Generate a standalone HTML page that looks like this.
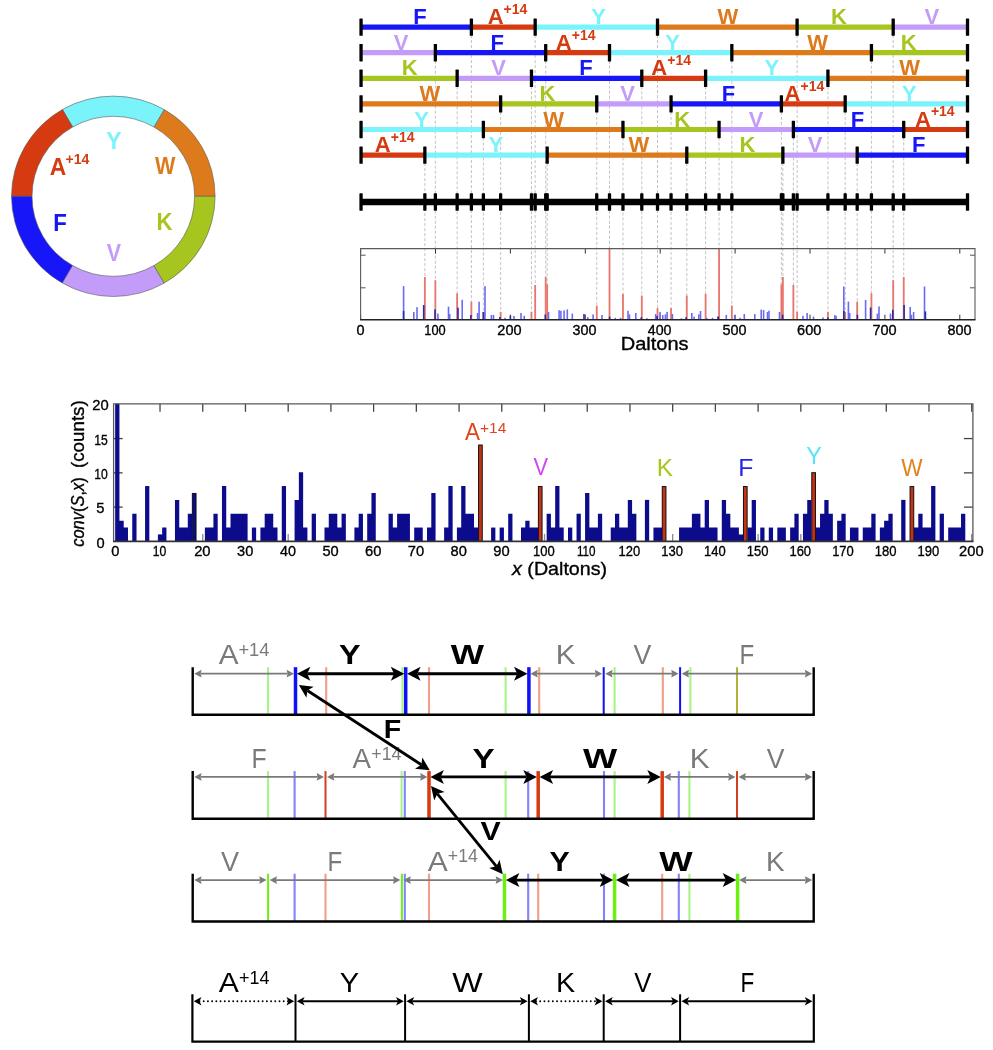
<!DOCTYPE html>
<html><head><meta charset="utf-8"><style>
html,body{margin:0;padding:0;background:#fff;overflow:hidden;width:993px;height:1050px;}
svg{display:block;will-change:transform;}
text{font-family:"Liberation Sans", sans-serif;}
</style></head><body>
<svg width="993" height="1050" viewBox="0 0 993 1050" font-family='"Liberation Sans", sans-serif'>
<rect width="993" height="1050" fill="#fff"/>
<path d="M215.10,196.30 A101.80,100.20 0 0 0 164.20,109.52 L153.94,127.02 A81.28,80.00 0 0 1 194.58,196.30 Z" fill="#dd7a1c" stroke="#5a5a5a" stroke-width="0.6"/>
<path d="M164.20,109.52 A101.80,100.20 0 0 0 62.40,109.52 L72.66,127.02 A81.28,80.00 0 0 1 153.94,127.02 Z" fill="#7af3fb" stroke="#5a5a5a" stroke-width="0.6"/>
<path d="M62.40,109.52 A101.80,100.20 0 0 0 11.50,196.30 L32.02,196.30 A81.28,80.00 0 0 1 72.66,127.02 Z" fill="#d63a10" stroke="#5a5a5a" stroke-width="0.6"/>
<path d="M11.50,196.30 A101.80,100.20 0 0 0 62.40,283.08 L72.66,265.58 A81.28,80.00 0 0 1 32.02,196.30 Z" fill="#1616f8" stroke="#5a5a5a" stroke-width="0.6"/>
<path d="M62.40,283.08 A101.80,100.20 0 0 0 164.20,283.08 L153.94,265.58 A81.28,80.00 0 0 1 72.66,265.58 Z" fill="#c39cfa" stroke="#5a5a5a" stroke-width="0.6"/>
<path d="M164.20,283.08 A101.80,100.20 0 0 0 215.10,196.30 L194.58,196.30 A81.28,80.00 0 0 1 153.94,265.58 Z" fill="#a6c51e" stroke="#5a5a5a" stroke-width="0.6"/>
<text transform="translate(106.21,149.00) scale(0.9819,1)" font-size="23.3" font-weight="bold" fill="#7af3fb">Y</text>
<text transform="translate(154.98,174.00) scale(0.9250,1)" font-size="23.3" font-weight="bold" fill="#dd7a1c">W</text>
<text transform="translate(156.62,230.10) scale(0.9501,1)" font-size="23.3" font-weight="bold" fill="#a6c51e">K</text>
<text transform="translate(106.75,260.70) scale(0.9197,1)" font-size="23.3" font-weight="bold" fill="#c39cfa">V</text>
<text transform="translate(53.31,230.80) scale(0.9560,1)" font-size="23.3" font-weight="bold" fill="#1616f8">F</text>
<text transform="translate(49.73,174.70) scale(0.9788,1)" font-size="23.3" font-weight="bold" fill="#d63a10">A</text>
<text transform="translate(65.51,164.40) scale(0.9908,1)" font-size="14.2" font-weight="bold" fill="#d63a10">+14</text>
<line x1="471.38" y1="35.1" x2="471.38" y2="319" stroke="#bcbcbc" stroke-width="0.9" stroke-dasharray="3,2"/>
<line x1="535.18" y1="35.1" x2="535.18" y2="319" stroke="#bcbcbc" stroke-width="0.9" stroke-dasharray="3,2"/>
<line x1="657.51" y1="35.1" x2="657.51" y2="319" stroke="#bcbcbc" stroke-width="0.9" stroke-dasharray="3,2"/>
<line x1="797.11" y1="35.1" x2="797.11" y2="319" stroke="#bcbcbc" stroke-width="0.9" stroke-dasharray="3,2"/>
<line x1="893.20" y1="35.1" x2="893.20" y2="319" stroke="#bcbcbc" stroke-width="0.9" stroke-dasharray="3,2"/>
<line x1="435.37" y1="60.7" x2="435.37" y2="319" stroke="#bcbcbc" stroke-width="0.9" stroke-dasharray="3,2"/>
<line x1="545.70" y1="60.7" x2="545.70" y2="319" stroke="#bcbcbc" stroke-width="0.9" stroke-dasharray="3,2"/>
<line x1="609.50" y1="60.7" x2="609.50" y2="319" stroke="#bcbcbc" stroke-width="0.9" stroke-dasharray="3,2"/>
<line x1="731.83" y1="60.7" x2="731.83" y2="319" stroke="#bcbcbc" stroke-width="0.9" stroke-dasharray="3,2"/>
<line x1="871.43" y1="60.7" x2="871.43" y2="319" stroke="#bcbcbc" stroke-width="0.9" stroke-dasharray="3,2"/>
<line x1="457.15" y1="86.3" x2="457.15" y2="319" stroke="#bcbcbc" stroke-width="0.9" stroke-dasharray="3,2"/>
<line x1="531.47" y1="86.3" x2="531.47" y2="319" stroke="#bcbcbc" stroke-width="0.9" stroke-dasharray="3,2"/>
<line x1="641.79" y1="86.3" x2="641.79" y2="319" stroke="#bcbcbc" stroke-width="0.9" stroke-dasharray="3,2"/>
<line x1="705.60" y1="86.3" x2="705.60" y2="319" stroke="#bcbcbc" stroke-width="0.9" stroke-dasharray="3,2"/>
<line x1="827.93" y1="86.3" x2="827.93" y2="319" stroke="#bcbcbc" stroke-width="0.9" stroke-dasharray="3,2"/>
<line x1="500.64" y1="111.9" x2="500.64" y2="319" stroke="#bcbcbc" stroke-width="0.9" stroke-dasharray="3,2"/>
<line x1="596.74" y1="111.9" x2="596.74" y2="319" stroke="#bcbcbc" stroke-width="0.9" stroke-dasharray="3,2"/>
<line x1="671.06" y1="111.9" x2="671.06" y2="319" stroke="#bcbcbc" stroke-width="0.9" stroke-dasharray="3,2"/>
<line x1="781.39" y1="111.9" x2="781.39" y2="319" stroke="#bcbcbc" stroke-width="0.9" stroke-dasharray="3,2"/>
<line x1="845.19" y1="111.9" x2="845.19" y2="319" stroke="#bcbcbc" stroke-width="0.9" stroke-dasharray="3,2"/>
<line x1="483.38" y1="137.5" x2="483.38" y2="319" stroke="#bcbcbc" stroke-width="0.9" stroke-dasharray="3,2"/>
<line x1="622.97" y1="137.5" x2="622.97" y2="319" stroke="#bcbcbc" stroke-width="0.9" stroke-dasharray="3,2"/>
<line x1="719.07" y1="137.5" x2="719.07" y2="319" stroke="#bcbcbc" stroke-width="0.9" stroke-dasharray="3,2"/>
<line x1="793.39" y1="137.5" x2="793.39" y2="319" stroke="#bcbcbc" stroke-width="0.9" stroke-dasharray="3,2"/>
<line x1="903.72" y1="137.5" x2="903.72" y2="319" stroke="#bcbcbc" stroke-width="0.9" stroke-dasharray="3,2"/>
<line x1="424.86" y1="163.1" x2="424.86" y2="319" stroke="#bcbcbc" stroke-width="0.9" stroke-dasharray="3,2"/>
<line x1="547.18" y1="163.1" x2="547.18" y2="319" stroke="#bcbcbc" stroke-width="0.9" stroke-dasharray="3,2"/>
<line x1="686.78" y1="163.1" x2="686.78" y2="319" stroke="#bcbcbc" stroke-width="0.9" stroke-dasharray="3,2"/>
<line x1="782.87" y1="163.1" x2="782.87" y2="319" stroke="#bcbcbc" stroke-width="0.9" stroke-dasharray="3,2"/>
<line x1="857.19" y1="163.1" x2="857.19" y2="319" stroke="#bcbcbc" stroke-width="0.9" stroke-dasharray="3,2"/>
<line x1="361.05" y1="27.1" x2="471.38" y2="27.1" stroke="#1616f8" stroke-width="5.2"/>
<text x="413.15" y="24.20" font-size="22" font-weight="bold" fill="#1616f8">F</text>
<line x1="471.38" y1="27.1" x2="535.18" y2="27.1" stroke="#d63a10" stroke-width="5.2"/>
<text x="487.65" y="24.20" font-size="22" font-weight="bold" fill="#d63a10">A</text>
<text x="503.61" y="14.00" font-size="14" font-weight="bold" fill="#d63a10">+14</text>
<line x1="535.18" y1="27.1" x2="657.51" y2="27.1" stroke="#7af3fb" stroke-width="5.2"/>
<text x="591.15" y="24.20" font-size="22" font-weight="bold" fill="#7af3fb">Y</text>
<line x1="657.51" y1="27.1" x2="797.11" y2="27.1" stroke="#dd7a1c" stroke-width="5.2"/>
<text x="717.62" y="24.20" font-size="22" font-weight="bold" fill="#dd7a1c">W</text>
<line x1="797.11" y1="27.1" x2="893.20" y2="27.1" stroke="#a6c51e" stroke-width="5.2"/>
<text x="831.02" y="24.20" font-size="22" font-weight="bold" fill="#a6c51e">K</text>
<line x1="893.20" y1="27.1" x2="967.52" y2="27.1" stroke="#c39cfa" stroke-width="5.2"/>
<text x="924.46" y="24.20" font-size="22" font-weight="bold" fill="#c39cfa">V</text>
<rect x="359.40" y="18.4" width="3.3" height="17.4" fill="#000" rx="0.6"/>
<rect x="469.73" y="18.4" width="3.3" height="17.4" fill="#000" rx="0.6"/>
<rect x="533.53" y="18.4" width="3.3" height="17.4" fill="#000" rx="0.6"/>
<rect x="655.86" y="18.4" width="3.3" height="17.4" fill="#000" rx="0.6"/>
<rect x="795.46" y="18.4" width="3.3" height="17.4" fill="#000" rx="0.6"/>
<rect x="891.55" y="18.4" width="3.3" height="17.4" fill="#000" rx="0.6"/>
<rect x="965.87" y="18.4" width="3.3" height="17.4" fill="#000" rx="0.6"/>
<line x1="361.05" y1="52.7" x2="435.37" y2="52.7" stroke="#c39cfa" stroke-width="5.2"/>
<text x="393.66" y="49.80" font-size="22" font-weight="bold" fill="#c39cfa">V</text>
<line x1="435.37" y1="52.7" x2="545.70" y2="52.7" stroke="#1616f8" stroke-width="5.2"/>
<text x="490.45" y="49.80" font-size="22" font-weight="bold" fill="#1616f8">F</text>
<line x1="545.70" y1="52.7" x2="609.50" y2="52.7" stroke="#d63a10" stroke-width="5.2"/>
<text x="555.85" y="49.80" font-size="22" font-weight="bold" fill="#d63a10">A</text>
<text x="571.81" y="39.60" font-size="14" font-weight="bold" fill="#d63a10">+14</text>
<line x1="609.50" y1="52.7" x2="731.83" y2="52.7" stroke="#7af3fb" stroke-width="5.2"/>
<text x="665.25" y="49.80" font-size="22" font-weight="bold" fill="#7af3fb">Y</text>
<line x1="731.83" y1="52.7" x2="871.43" y2="52.7" stroke="#dd7a1c" stroke-width="5.2"/>
<text x="807.22" y="49.80" font-size="22" font-weight="bold" fill="#dd7a1c">W</text>
<line x1="871.43" y1="52.7" x2="967.52" y2="52.7" stroke="#a6c51e" stroke-width="5.2"/>
<text x="900.82" y="49.80" font-size="22" font-weight="bold" fill="#a6c51e">K</text>
<rect x="359.40" y="44.0" width="3.3" height="17.4" fill="#000" rx="0.6"/>
<rect x="433.72" y="44.0" width="3.3" height="17.4" fill="#000" rx="0.6"/>
<rect x="544.05" y="44.0" width="3.3" height="17.4" fill="#000" rx="0.6"/>
<rect x="607.85" y="44.0" width="3.3" height="17.4" fill="#000" rx="0.6"/>
<rect x="730.18" y="44.0" width="3.3" height="17.4" fill="#000" rx="0.6"/>
<rect x="869.78" y="44.0" width="3.3" height="17.4" fill="#000" rx="0.6"/>
<rect x="965.87" y="44.0" width="3.3" height="17.4" fill="#000" rx="0.6"/>
<line x1="361.05" y1="78.3" x2="457.15" y2="78.3" stroke="#a6c51e" stroke-width="5.2"/>
<text x="401.82" y="75.40" font-size="22" font-weight="bold" fill="#a6c51e">K</text>
<line x1="457.15" y1="78.3" x2="531.47" y2="78.3" stroke="#c39cfa" stroke-width="5.2"/>
<text x="491.26" y="75.40" font-size="22" font-weight="bold" fill="#c39cfa">V</text>
<line x1="531.47" y1="78.3" x2="641.79" y2="78.3" stroke="#1616f8" stroke-width="5.2"/>
<text x="579.35" y="75.40" font-size="22" font-weight="bold" fill="#1616f8">F</text>
<line x1="641.79" y1="78.3" x2="705.60" y2="78.3" stroke="#d63a10" stroke-width="5.2"/>
<text x="651.35" y="75.40" font-size="22" font-weight="bold" fill="#d63a10">A</text>
<text x="667.31" y="65.20" font-size="14" font-weight="bold" fill="#d63a10">+14</text>
<line x1="705.60" y1="78.3" x2="827.93" y2="78.3" stroke="#7af3fb" stroke-width="5.2"/>
<text x="764.45" y="75.40" font-size="22" font-weight="bold" fill="#7af3fb">Y</text>
<line x1="827.93" y1="78.3" x2="967.52" y2="78.3" stroke="#dd7a1c" stroke-width="5.2"/>
<text x="899.32" y="75.40" font-size="22" font-weight="bold" fill="#dd7a1c">W</text>
<rect x="359.40" y="69.6" width="3.3" height="17.4" fill="#000" rx="0.6"/>
<rect x="455.50" y="69.6" width="3.3" height="17.4" fill="#000" rx="0.6"/>
<rect x="529.82" y="69.6" width="3.3" height="17.4" fill="#000" rx="0.6"/>
<rect x="640.14" y="69.6" width="3.3" height="17.4" fill="#000" rx="0.6"/>
<rect x="703.95" y="69.6" width="3.3" height="17.4" fill="#000" rx="0.6"/>
<rect x="826.28" y="69.6" width="3.3" height="17.4" fill="#000" rx="0.6"/>
<rect x="965.87" y="69.6" width="3.3" height="17.4" fill="#000" rx="0.6"/>
<line x1="361.05" y1="103.9" x2="500.64" y2="103.9" stroke="#dd7a1c" stroke-width="5.2"/>
<text x="419.52" y="101.00" font-size="22" font-weight="bold" fill="#dd7a1c">W</text>
<line x1="500.64" y1="103.9" x2="596.74" y2="103.9" stroke="#a6c51e" stroke-width="5.2"/>
<text x="539.62" y="101.00" font-size="22" font-weight="bold" fill="#a6c51e">K</text>
<line x1="596.74" y1="103.9" x2="671.06" y2="103.9" stroke="#c39cfa" stroke-width="5.2"/>
<text x="620.36" y="101.00" font-size="22" font-weight="bold" fill="#c39cfa">V</text>
<line x1="671.06" y1="103.9" x2="781.39" y2="103.9" stroke="#1616f8" stroke-width="5.2"/>
<text x="721.65" y="101.00" font-size="22" font-weight="bold" fill="#1616f8">F</text>
<line x1="781.39" y1="103.9" x2="845.19" y2="103.9" stroke="#d63a10" stroke-width="5.2"/>
<text x="784.55" y="101.00" font-size="22" font-weight="bold" fill="#d63a10">A</text>
<text x="800.51" y="90.80" font-size="14" font-weight="bold" fill="#d63a10">+14</text>
<line x1="845.19" y1="103.9" x2="967.52" y2="103.9" stroke="#7af3fb" stroke-width="5.2"/>
<text x="902.05" y="101.00" font-size="22" font-weight="bold" fill="#7af3fb">Y</text>
<rect x="359.40" y="95.2" width="3.3" height="17.4" fill="#000" rx="0.6"/>
<rect x="498.99" y="95.2" width="3.3" height="17.4" fill="#000" rx="0.6"/>
<rect x="595.09" y="95.2" width="3.3" height="17.4" fill="#000" rx="0.6"/>
<rect x="669.41" y="95.2" width="3.3" height="17.4" fill="#000" rx="0.6"/>
<rect x="779.74" y="95.2" width="3.3" height="17.4" fill="#000" rx="0.6"/>
<rect x="843.54" y="95.2" width="3.3" height="17.4" fill="#000" rx="0.6"/>
<rect x="965.87" y="95.2" width="3.3" height="17.4" fill="#000" rx="0.6"/>
<line x1="361.05" y1="129.5" x2="483.38" y2="129.5" stroke="#7af3fb" stroke-width="5.2"/>
<text x="414.25" y="126.60" font-size="22" font-weight="bold" fill="#7af3fb">Y</text>
<line x1="483.38" y1="129.5" x2="622.97" y2="129.5" stroke="#dd7a1c" stroke-width="5.2"/>
<text x="543.32" y="126.60" font-size="22" font-weight="bold" fill="#dd7a1c">W</text>
<line x1="622.97" y1="129.5" x2="719.07" y2="129.5" stroke="#a6c51e" stroke-width="5.2"/>
<text x="674.32" y="126.60" font-size="22" font-weight="bold" fill="#a6c51e">K</text>
<line x1="719.07" y1="129.5" x2="793.39" y2="129.5" stroke="#c39cfa" stroke-width="5.2"/>
<text x="748.76" y="126.60" font-size="22" font-weight="bold" fill="#c39cfa">V</text>
<line x1="793.39" y1="129.5" x2="903.72" y2="129.5" stroke="#1616f8" stroke-width="5.2"/>
<text x="850.65" y="126.60" font-size="22" font-weight="bold" fill="#1616f8">F</text>
<line x1="903.72" y1="129.5" x2="967.52" y2="129.5" stroke="#d63a10" stroke-width="5.2"/>
<text x="914.95" y="126.60" font-size="22" font-weight="bold" fill="#d63a10">A</text>
<text x="930.91" y="116.40" font-size="14" font-weight="bold" fill="#d63a10">+14</text>
<rect x="359.40" y="120.8" width="3.3" height="17.4" fill="#000" rx="0.6"/>
<rect x="481.73" y="120.8" width="3.3" height="17.4" fill="#000" rx="0.6"/>
<rect x="621.32" y="120.8" width="3.3" height="17.4" fill="#000" rx="0.6"/>
<rect x="717.42" y="120.8" width="3.3" height="17.4" fill="#000" rx="0.6"/>
<rect x="791.74" y="120.8" width="3.3" height="17.4" fill="#000" rx="0.6"/>
<rect x="902.07" y="120.8" width="3.3" height="17.4" fill="#000" rx="0.6"/>
<rect x="965.87" y="120.8" width="3.3" height="17.4" fill="#000" rx="0.6"/>
<line x1="361.05" y1="155.1" x2="424.86" y2="155.1" stroke="#d63a10" stroke-width="5.2"/>
<text x="374.75" y="152.20" font-size="22" font-weight="bold" fill="#d63a10">A</text>
<text x="390.71" y="142.00" font-size="14" font-weight="bold" fill="#d63a10">+14</text>
<line x1="424.86" y1="155.1" x2="547.18" y2="155.1" stroke="#7af3fb" stroke-width="5.2"/>
<text x="488.45" y="152.20" font-size="22" font-weight="bold" fill="#7af3fb">Y</text>
<line x1="547.18" y1="155.1" x2="686.78" y2="155.1" stroke="#dd7a1c" stroke-width="5.2"/>
<text x="628.42" y="152.20" font-size="22" font-weight="bold" fill="#dd7a1c">W</text>
<line x1="686.78" y1="155.1" x2="782.87" y2="155.1" stroke="#a6c51e" stroke-width="5.2"/>
<text x="739.42" y="152.20" font-size="22" font-weight="bold" fill="#a6c51e">K</text>
<line x1="782.87" y1="155.1" x2="857.19" y2="155.1" stroke="#c39cfa" stroke-width="5.2"/>
<text x="807.66" y="152.20" font-size="22" font-weight="bold" fill="#c39cfa">V</text>
<line x1="857.19" y1="155.1" x2="967.52" y2="155.1" stroke="#1616f8" stroke-width="5.2"/>
<text x="911.95" y="152.20" font-size="22" font-weight="bold" fill="#1616f8">F</text>
<rect x="359.40" y="146.4" width="3.3" height="17.4" fill="#000" rx="0.6"/>
<rect x="423.21" y="146.4" width="3.3" height="17.4" fill="#000" rx="0.6"/>
<rect x="545.53" y="146.4" width="3.3" height="17.4" fill="#000" rx="0.6"/>
<rect x="685.13" y="146.4" width="3.3" height="17.4" fill="#000" rx="0.6"/>
<rect x="781.22" y="146.4" width="3.3" height="17.4" fill="#000" rx="0.6"/>
<rect x="855.54" y="146.4" width="3.3" height="17.4" fill="#000" rx="0.6"/>
<rect x="965.87" y="146.4" width="3.3" height="17.4" fill="#000" rx="0.6"/>
<line x1="361.05" y1="202.0" x2="967.52" y2="202.0" stroke="#000" stroke-width="6.5"/>
<rect x="359.40" y="193.3" width="3.3" height="17.4" fill="#000" rx="0.6"/>
<rect x="423.21" y="193.3" width="3.3" height="17.4" fill="#000" rx="0.6"/>
<rect x="433.72" y="193.3" width="3.3" height="17.4" fill="#000" rx="0.6"/>
<rect x="455.50" y="193.3" width="3.3" height="17.4" fill="#000" rx="0.6"/>
<rect x="469.73" y="193.3" width="3.3" height="17.4" fill="#000" rx="0.6"/>
<rect x="481.73" y="193.3" width="3.3" height="17.4" fill="#000" rx="0.6"/>
<rect x="498.99" y="193.3" width="3.3" height="17.4" fill="#000" rx="0.6"/>
<rect x="529.82" y="193.3" width="3.3" height="17.4" fill="#000" rx="0.6"/>
<rect x="533.53" y="193.3" width="3.3" height="17.4" fill="#000" rx="0.6"/>
<rect x="544.05" y="193.3" width="3.3" height="17.4" fill="#000" rx="0.6"/>
<rect x="545.53" y="193.3" width="3.3" height="17.4" fill="#000" rx="0.6"/>
<rect x="595.09" y="193.3" width="3.3" height="17.4" fill="#000" rx="0.6"/>
<rect x="607.85" y="193.3" width="3.3" height="17.4" fill="#000" rx="0.6"/>
<rect x="621.32" y="193.3" width="3.3" height="17.4" fill="#000" rx="0.6"/>
<rect x="640.14" y="193.3" width="3.3" height="17.4" fill="#000" rx="0.6"/>
<rect x="655.86" y="193.3" width="3.3" height="17.4" fill="#000" rx="0.6"/>
<rect x="669.41" y="193.3" width="3.3" height="17.4" fill="#000" rx="0.6"/>
<rect x="685.13" y="193.3" width="3.3" height="17.4" fill="#000" rx="0.6"/>
<rect x="703.95" y="193.3" width="3.3" height="17.4" fill="#000" rx="0.6"/>
<rect x="717.42" y="193.3" width="3.3" height="17.4" fill="#000" rx="0.6"/>
<rect x="730.18" y="193.3" width="3.3" height="17.4" fill="#000" rx="0.6"/>
<rect x="779.74" y="193.3" width="3.3" height="17.4" fill="#000" rx="0.6"/>
<rect x="781.22" y="193.3" width="3.3" height="17.4" fill="#000" rx="0.6"/>
<rect x="791.74" y="193.3" width="3.3" height="17.4" fill="#000" rx="0.6"/>
<rect x="795.46" y="193.3" width="3.3" height="17.4" fill="#000" rx="0.6"/>
<rect x="826.28" y="193.3" width="3.3" height="17.4" fill="#000" rx="0.6"/>
<rect x="843.54" y="193.3" width="3.3" height="17.4" fill="#000" rx="0.6"/>
<rect x="855.54" y="193.3" width="3.3" height="17.4" fill="#000" rx="0.6"/>
<rect x="869.78" y="193.3" width="3.3" height="17.4" fill="#000" rx="0.6"/>
<rect x="891.55" y="193.3" width="3.3" height="17.4" fill="#000" rx="0.6"/>
<rect x="902.07" y="193.3" width="3.3" height="17.4" fill="#000" rx="0.6"/>
<rect x="965.87" y="193.3" width="3.3" height="17.4" fill="#000" rx="0.6"/>
<line x1="360.6" y1="248.6" x2="360.6" y2="253.6" stroke="#333" stroke-width="1"/>
<line x1="360.6" y1="319.7" x2="360.6" y2="314.7" stroke="#333" stroke-width="1"/>
<line x1="435.5" y1="248.6" x2="435.5" y2="253.6" stroke="#333" stroke-width="1"/>
<line x1="435.5" y1="319.7" x2="435.5" y2="314.7" stroke="#333" stroke-width="1"/>
<line x1="510.4" y1="248.6" x2="510.4" y2="253.6" stroke="#333" stroke-width="1"/>
<line x1="510.4" y1="319.7" x2="510.4" y2="314.7" stroke="#333" stroke-width="1"/>
<line x1="585.3" y1="248.6" x2="585.3" y2="253.6" stroke="#333" stroke-width="1"/>
<line x1="585.3" y1="319.7" x2="585.3" y2="314.7" stroke="#333" stroke-width="1"/>
<line x1="660.2" y1="248.6" x2="660.2" y2="253.6" stroke="#333" stroke-width="1"/>
<line x1="660.2" y1="319.7" x2="660.2" y2="314.7" stroke="#333" stroke-width="1"/>
<line x1="735.1" y1="248.6" x2="735.1" y2="253.6" stroke="#333" stroke-width="1"/>
<line x1="735.1" y1="319.7" x2="735.1" y2="314.7" stroke="#333" stroke-width="1"/>
<line x1="810.0" y1="248.6" x2="810.0" y2="253.6" stroke="#333" stroke-width="1"/>
<line x1="810.0" y1="319.7" x2="810.0" y2="314.7" stroke="#333" stroke-width="1"/>
<line x1="884.9" y1="248.6" x2="884.9" y2="253.6" stroke="#333" stroke-width="1"/>
<line x1="884.9" y1="319.7" x2="884.9" y2="314.7" stroke="#333" stroke-width="1"/>
<line x1="959.8" y1="248.6" x2="959.8" y2="253.6" stroke="#333" stroke-width="1"/>
<line x1="959.8" y1="319.7" x2="959.8" y2="314.7" stroke="#333" stroke-width="1"/>
<line x1="360.6" y1="255.2" x2="365.6" y2="255.2" stroke="#555" stroke-width="1"/>
<line x1="975.0" y1="255.2" x2="970.0" y2="255.2" stroke="#555" stroke-width="1"/>
<line x1="360.6" y1="287.8" x2="365.6" y2="287.8" stroke="#555" stroke-width="1"/>
<line x1="975.0" y1="287.8" x2="970.0" y2="287.8" stroke="#555" stroke-width="1"/>
<rect x="423.95" y="277" width="1.8" height="42.7" fill="#e8766c"/>
<rect x="434.47" y="280.2" width="1.8" height="39.5" fill="#e8766c"/>
<rect x="456.24" y="293.3" width="1.8" height="26.4" fill="#e8766c"/>
<rect x="470.48" y="301.7" width="1.8" height="18.0" fill="#e8766c"/>
<rect x="482.48" y="311.9" width="1.8" height="7.8" fill="#e8766c"/>
<rect x="499.75" y="311.9" width="1.8" height="7.8" fill="#e8766c"/>
<rect x="530.56" y="311.9" width="1.8" height="7.8" fill="#e8766c"/>
<rect x="534.28" y="285" width="1.8" height="34.7" fill="#e8766c"/>
<rect x="544.80" y="277" width="1.8" height="42.7" fill="#e8766c"/>
<rect x="546.28" y="284.4" width="1.8" height="35.3" fill="#e8766c"/>
<rect x="595.84" y="305.6" width="1.8" height="14.1" fill="#e8766c"/>
<rect x="608.61" y="248.6" width="1.8" height="71.1" fill="#e8766c"/>
<rect x="622.07" y="293.9" width="1.8" height="25.8" fill="#e8766c"/>
<rect x="640.89" y="295.6" width="1.8" height="24.1" fill="#e8766c"/>
<rect x="656.61" y="308.1" width="1.8" height="11.6" fill="#e8766c"/>
<rect x="670.16" y="308.1" width="1.8" height="11.6" fill="#e8766c"/>
<rect x="685.87" y="295.6" width="1.8" height="24.1" fill="#e8766c"/>
<rect x="704.70" y="293.9" width="1.8" height="25.8" fill="#e8766c"/>
<rect x="718.16" y="248.6" width="1.8" height="71.1" fill="#e8766c"/>
<rect x="730.93" y="305.6" width="1.8" height="14.1" fill="#e8766c"/>
<rect x="780.49" y="284.4" width="1.8" height="35.3" fill="#e8766c"/>
<rect x="781.97" y="277" width="1.8" height="42.7" fill="#e8766c"/>
<rect x="792.48" y="285" width="1.8" height="34.7" fill="#e8766c"/>
<rect x="796.21" y="311.9" width="1.8" height="7.8" fill="#e8766c"/>
<rect x="827.02" y="311.9" width="1.8" height="7.8" fill="#e8766c"/>
<rect x="844.29" y="311.9" width="1.8" height="7.8" fill="#e8766c"/>
<rect x="856.29" y="301.7" width="1.8" height="18.0" fill="#e8766c"/>
<rect x="870.53" y="293.3" width="1.8" height="26.4" fill="#e8766c"/>
<rect x="892.30" y="280.2" width="1.8" height="39.5" fill="#e8766c"/>
<rect x="902.81" y="277" width="1.8" height="42.7" fill="#e8766c"/>
<rect x="402.80" y="286.1" width="1.6" height="33.6" fill="#6a6af8"/>
<rect x="413.00" y="311.9" width="1.6" height="7.8" fill="#6a6af8"/>
<rect x="416.20" y="307.2" width="1.6" height="12.5" fill="#6a6af8"/>
<rect x="437.10" y="313.6" width="1.6" height="6.1" fill="#6a6af8"/>
<rect x="447.70" y="306.6" width="1.6" height="13.1" fill="#6a6af8"/>
<rect x="448.90" y="314" width="1.6" height="5.7" fill="#6a6af8"/>
<rect x="461.40" y="299.8" width="1.6" height="19.9" fill="#6a6af8"/>
<rect x="476.80" y="313" width="1.6" height="6.7" fill="#6a6af8"/>
<rect x="478.30" y="301.7" width="1.6" height="18.0" fill="#6a6af8"/>
<rect x="484.20" y="286.1" width="1.6" height="33.6" fill="#6a6af8"/>
<rect x="490.60" y="315" width="1.6" height="4.7" fill="#6a6af8"/>
<rect x="492.70" y="315" width="1.6" height="4.7" fill="#6a6af8"/>
<rect x="504.30" y="317.8" width="1.6" height="1.9" fill="#6a6af8"/>
<rect x="513.20" y="316" width="1.6" height="3.7" fill="#6a6af8"/>
<rect x="520.20" y="313" width="1.6" height="6.7" fill="#6a6af8"/>
<rect x="523.40" y="315.7" width="1.6" height="4.0" fill="#6a6af8"/>
<rect x="547.70" y="312" width="1.6" height="7.7" fill="#6a6af8"/>
<rect x="558.30" y="310.2" width="1.6" height="9.5" fill="#6a6af8"/>
<rect x="560.10" y="310.8" width="1.6" height="8.9" fill="#6a6af8"/>
<rect x="563.30" y="310.4" width="1.6" height="9.3" fill="#6a6af8"/>
<rect x="566.50" y="309.4" width="1.6" height="10.3" fill="#6a6af8"/>
<rect x="571.50" y="313.6" width="1.6" height="6.1" fill="#6a6af8"/>
<rect x="587.00" y="317.2" width="1.6" height="2.5" fill="#6a6af8"/>
<rect x="592.30" y="314.4" width="1.6" height="5.3" fill="#6a6af8"/>
<rect x="601.20" y="315" width="1.6" height="4.7" fill="#6a6af8"/>
<rect x="614.50" y="317.8" width="1.6" height="1.9" fill="#6a6af8"/>
<rect x="619.80" y="317.8" width="1.6" height="1.9" fill="#6a6af8"/>
<rect x="627.20" y="310.8" width="1.6" height="8.9" fill="#6a6af8"/>
<rect x="628.70" y="314.4" width="1.6" height="5.3" fill="#6a6af8"/>
<rect x="635.00" y="313" width="1.6" height="6.7" fill="#6a6af8"/>
<rect x="646.20" y="318.2" width="1.6" height="1.5" fill="#6a6af8"/>
<rect x="654.90" y="314" width="1.6" height="5.7" fill="#6a6af8"/>
<rect x="659.30" y="311.9" width="1.6" height="7.8" fill="#6a6af8"/>
<rect x="662.00" y="315" width="1.6" height="4.7" fill="#6a6af8"/>
<rect x="664.60" y="314.4" width="1.6" height="5.3" fill="#6a6af8"/>
<rect x="666.30" y="311.9" width="1.6" height="7.8" fill="#6a6af8"/>
<rect x="671.60" y="314" width="1.6" height="5.7" fill="#6a6af8"/>
<rect x="680.70" y="318.2" width="1.6" height="1.5" fill="#6a6af8"/>
<rect x="691.00" y="313" width="1.6" height="6.7" fill="#6a6af8"/>
<rect x="693.30" y="316.6" width="1.6" height="3.1" fill="#6a6af8"/>
<rect x="698.00" y="314.4" width="1.6" height="5.3" fill="#6a6af8"/>
<rect x="699.70" y="311" width="1.6" height="8.7" fill="#6a6af8"/>
<rect x="706.00" y="317.8" width="1.6" height="1.9" fill="#6a6af8"/>
<rect x="711.70" y="317.8" width="1.6" height="1.9" fill="#6a6af8"/>
<rect x="717.00" y="316.6" width="1.6" height="3.1" fill="#6a6af8"/>
<rect x="725.50" y="315" width="1.6" height="4.7" fill="#6a6af8"/>
<rect x="733.90" y="315" width="1.6" height="4.7" fill="#6a6af8"/>
<rect x="739.20" y="317.8" width="1.6" height="1.9" fill="#6a6af8"/>
<rect x="743.50" y="314" width="1.6" height="5.7" fill="#6a6af8"/>
<rect x="754.00" y="314" width="1.6" height="5.7" fill="#6a6af8"/>
<rect x="760.40" y="309.6" width="1.6" height="10.1" fill="#6a6af8"/>
<rect x="762.80" y="310" width="1.6" height="9.7" fill="#6a6af8"/>
<rect x="766.70" y="312" width="1.6" height="7.7" fill="#6a6af8"/>
<rect x="768.20" y="310.7" width="1.6" height="9.0" fill="#6a6af8"/>
<rect x="778.70" y="312" width="1.6" height="7.7" fill="#6a6af8"/>
<rect x="802.20" y="315.9" width="1.6" height="3.8" fill="#6a6af8"/>
<rect x="806.30" y="313" width="1.6" height="6.7" fill="#6a6af8"/>
<rect x="812.70" y="316.6" width="1.6" height="3.1" fill="#6a6af8"/>
<rect x="822.20" y="317.5" width="1.6" height="2.2" fill="#6a6af8"/>
<rect x="834.00" y="315.2" width="1.6" height="4.5" fill="#6a6af8"/>
<rect x="835.30" y="315.9" width="1.6" height="3.8" fill="#6a6af8"/>
<rect x="843.00" y="286.5" width="1.6" height="33.2" fill="#6a6af8"/>
<rect x="847.60" y="301.6" width="1.6" height="18.1" fill="#6a6af8"/>
<rect x="848.90" y="313" width="1.6" height="6.7" fill="#6a6af8"/>
<rect x="864.80" y="300" width="1.6" height="19.7" fill="#6a6af8"/>
<rect x="876.60" y="313.6" width="1.6" height="6.1" fill="#6a6af8"/>
<rect x="878.20" y="306.4" width="1.6" height="13.3" fill="#6a6af8"/>
<rect x="889.70" y="313.6" width="1.6" height="6.1" fill="#6a6af8"/>
<rect x="909.40" y="307" width="1.6" height="12.7" fill="#6a6af8"/>
<rect x="910.60" y="314.8" width="1.6" height="4.9" fill="#6a6af8"/>
<rect x="912.80" y="312" width="1.6" height="7.7" fill="#6a6af8"/>
<rect x="923.70" y="286.5" width="1.6" height="33.2" fill="#6a6af8"/>
<rect x="402.80" y="311" width="1.6" height="8.7" fill="#2a2aa8"/>
<rect x="422.90" y="305.1" width="1.6" height="14.6" fill="#2a2aa8"/>
<rect x="434.20" y="309.4" width="1.6" height="10.3" fill="#2a2aa8"/>
<rect x="457.20" y="307.7" width="1.6" height="12.0" fill="#2a2aa8"/>
<rect x="470.10" y="315" width="1.6" height="4.7" fill="#2a2aa8"/>
<rect x="482.60" y="312" width="1.6" height="7.7" fill="#2a2aa8"/>
<rect x="499.10" y="317" width="1.6" height="2.7" fill="#2a2aa8"/>
<rect x="509.60" y="315.7" width="1.6" height="4.0" fill="#2a2aa8"/>
<rect x="544.50" y="314.5" width="1.6" height="5.2" fill="#2a2aa8"/>
<rect x="583.20" y="314" width="1.6" height="5.7" fill="#2a2aa8"/>
<rect x="608.80" y="316.6" width="1.6" height="3.1" fill="#2a2aa8"/>
<rect x="640.50" y="317.2" width="1.6" height="2.5" fill="#2a2aa8"/>
<rect x="656.30" y="316" width="1.6" height="3.7" fill="#2a2aa8"/>
<rect x="685.30" y="317.2" width="1.6" height="2.5" fill="#2a2aa8"/>
<rect x="717.50" y="316.6" width="1.6" height="3.1" fill="#2a2aa8"/>
<rect x="781.80" y="314.8" width="1.6" height="4.9" fill="#2a2aa8"/>
<rect x="827.20" y="317.5" width="1.6" height="2.2" fill="#2a2aa8"/>
<rect x="843.00" y="311" width="1.6" height="8.7" fill="#2a2aa8"/>
<rect x="856.60" y="314.8" width="1.6" height="4.9" fill="#2a2aa8"/>
<rect x="869.80" y="307.5" width="1.6" height="12.2" fill="#2a2aa8"/>
<rect x="892.00" y="309.8" width="1.6" height="9.9" fill="#2a2aa8"/>
<rect x="903.30" y="305" width="1.6" height="14.7" fill="#2a2aa8"/>
<rect x="924.60" y="311.4" width="1.6" height="8.3" fill="#2a2aa8"/>
<path d="M360.6,319.7 L360.6,248.6 L975.0,248.6 L975.0,319.7" fill="none" stroke="#5a5a5a" stroke-width="1.1"/>
<line x1="360.1" y1="319.7" x2="975.5" y2="319.7" stroke="#222" stroke-width="1.6"/>
<text transform="translate(356.38,335.20) scale(0.9634,1)" font-size="15.0" fill="#000" stroke="#000" stroke-width="0.35">0</text>
<text transform="translate(424.26,335.20) scale(0.8556,1)" font-size="15.0" fill="#000" stroke="#000" stroke-width="0.35">100</text>
<text transform="translate(497.32,335.20) scale(0.9666,1)" font-size="15.0" fill="#000" stroke="#000" stroke-width="0.35">200</text>
<text transform="translate(572.60,335.20) scale(0.9592,1)" font-size="15.0" fill="#000" stroke="#000" stroke-width="0.35">300</text>
<text transform="translate(647.73,335.20) scale(0.9501,1)" font-size="15.0" fill="#000" stroke="#000" stroke-width="0.35">400</text>
<text transform="translate(722.38,335.20) scale(0.9603,1)" font-size="15.0" fill="#000" stroke="#000" stroke-width="0.35">500</text>
<text transform="translate(797.12,335.20) scale(0.9669,1)" font-size="15.0" fill="#000" stroke="#000" stroke-width="0.35">600</text>
<text transform="translate(872.41,335.20) scale(0.9672,1)" font-size="15.0" fill="#000" stroke="#000" stroke-width="0.35">700</text>
<text transform="translate(947.43,335.20) scale(0.9624,1)" font-size="15.0" fill="#000" stroke="#000" stroke-width="0.35">800</text>
<text transform="translate(620.76,350.40) scale(1.0819,1)" font-size="18.5" fill="#000" stroke="#000" stroke-width="0.35">Daltons</text>
<line x1="117.30" y1="403.8" x2="117.30" y2="411.8" stroke="#444" stroke-width="1.3"/>
<line x1="117.30" y1="541.4" x2="117.30" y2="533.9" stroke="#8a8a8a" stroke-width="1.3"/>
<line x1="160.02" y1="403.8" x2="160.02" y2="411.8" stroke="#444" stroke-width="1.3"/>
<line x1="160.02" y1="541.4" x2="160.02" y2="533.9" stroke="#8a8a8a" stroke-width="1.3"/>
<line x1="202.74" y1="403.8" x2="202.74" y2="411.8" stroke="#444" stroke-width="1.3"/>
<line x1="202.74" y1="541.4" x2="202.74" y2="533.9" stroke="#8a8a8a" stroke-width="1.3"/>
<line x1="245.46" y1="403.8" x2="245.46" y2="411.8" stroke="#444" stroke-width="1.3"/>
<line x1="245.46" y1="541.4" x2="245.46" y2="533.9" stroke="#8a8a8a" stroke-width="1.3"/>
<line x1="288.18" y1="403.8" x2="288.18" y2="411.8" stroke="#444" stroke-width="1.3"/>
<line x1="288.18" y1="541.4" x2="288.18" y2="533.9" stroke="#8a8a8a" stroke-width="1.3"/>
<line x1="330.90" y1="403.8" x2="330.90" y2="411.8" stroke="#444" stroke-width="1.3"/>
<line x1="330.90" y1="541.4" x2="330.90" y2="533.9" stroke="#8a8a8a" stroke-width="1.3"/>
<line x1="373.62" y1="403.8" x2="373.62" y2="411.8" stroke="#444" stroke-width="1.3"/>
<line x1="373.62" y1="541.4" x2="373.62" y2="533.9" stroke="#8a8a8a" stroke-width="1.3"/>
<line x1="416.34" y1="403.8" x2="416.34" y2="411.8" stroke="#444" stroke-width="1.3"/>
<line x1="416.34" y1="541.4" x2="416.34" y2="533.9" stroke="#8a8a8a" stroke-width="1.3"/>
<line x1="459.06" y1="403.8" x2="459.06" y2="411.8" stroke="#444" stroke-width="1.3"/>
<line x1="459.06" y1="541.4" x2="459.06" y2="533.9" stroke="#8a8a8a" stroke-width="1.3"/>
<line x1="501.78" y1="403.8" x2="501.78" y2="411.8" stroke="#444" stroke-width="1.3"/>
<line x1="501.78" y1="541.4" x2="501.78" y2="533.9" stroke="#8a8a8a" stroke-width="1.3"/>
<line x1="544.50" y1="403.8" x2="544.50" y2="411.8" stroke="#444" stroke-width="1.3"/>
<line x1="544.50" y1="541.4" x2="544.50" y2="533.9" stroke="#8a8a8a" stroke-width="1.3"/>
<line x1="587.22" y1="403.8" x2="587.22" y2="411.8" stroke="#444" stroke-width="1.3"/>
<line x1="587.22" y1="541.4" x2="587.22" y2="533.9" stroke="#8a8a8a" stroke-width="1.3"/>
<line x1="629.94" y1="403.8" x2="629.94" y2="411.8" stroke="#444" stroke-width="1.3"/>
<line x1="629.94" y1="541.4" x2="629.94" y2="533.9" stroke="#8a8a8a" stroke-width="1.3"/>
<line x1="672.66" y1="403.8" x2="672.66" y2="411.8" stroke="#444" stroke-width="1.3"/>
<line x1="672.66" y1="541.4" x2="672.66" y2="533.9" stroke="#8a8a8a" stroke-width="1.3"/>
<line x1="715.38" y1="403.8" x2="715.38" y2="411.8" stroke="#444" stroke-width="1.3"/>
<line x1="715.38" y1="541.4" x2="715.38" y2="533.9" stroke="#8a8a8a" stroke-width="1.3"/>
<line x1="758.10" y1="403.8" x2="758.10" y2="411.8" stroke="#444" stroke-width="1.3"/>
<line x1="758.10" y1="541.4" x2="758.10" y2="533.9" stroke="#8a8a8a" stroke-width="1.3"/>
<line x1="800.82" y1="403.8" x2="800.82" y2="411.8" stroke="#444" stroke-width="1.3"/>
<line x1="800.82" y1="541.4" x2="800.82" y2="533.9" stroke="#8a8a8a" stroke-width="1.3"/>
<line x1="843.54" y1="403.8" x2="843.54" y2="411.8" stroke="#444" stroke-width="1.3"/>
<line x1="843.54" y1="541.4" x2="843.54" y2="533.9" stroke="#8a8a8a" stroke-width="1.3"/>
<line x1="886.26" y1="403.8" x2="886.26" y2="411.8" stroke="#444" stroke-width="1.3"/>
<line x1="886.26" y1="541.4" x2="886.26" y2="533.9" stroke="#8a8a8a" stroke-width="1.3"/>
<line x1="928.98" y1="403.8" x2="928.98" y2="411.8" stroke="#444" stroke-width="1.3"/>
<line x1="928.98" y1="541.4" x2="928.98" y2="533.9" stroke="#8a8a8a" stroke-width="1.3"/>
<line x1="971.70" y1="403.8" x2="971.70" y2="411.8" stroke="#444" stroke-width="1.3"/>
<line x1="971.70" y1="541.4" x2="971.70" y2="533.9" stroke="#8a8a8a" stroke-width="1.3"/>
<line x1="113.6" y1="507.12" x2="122.6" y2="507.12" stroke="#444" stroke-width="1.3"/>
<line x1="972.9" y1="507.12" x2="963.9" y2="507.12" stroke="#444" stroke-width="1.3"/>
<line x1="113.6" y1="472.85" x2="122.6" y2="472.85" stroke="#444" stroke-width="1.3"/>
<line x1="972.9" y1="472.85" x2="963.9" y2="472.85" stroke="#444" stroke-width="1.3"/>
<line x1="113.6" y1="438.57" x2="122.6" y2="438.57" stroke="#444" stroke-width="1.3"/>
<line x1="972.9" y1="438.57" x2="963.9" y2="438.57" stroke="#444" stroke-width="1.3"/>
<path d="M115.16,541.40 L115.16,403.80 L119.44,403.80 L119.44,520.64 L123.71,520.64 L123.71,527.56 L127.98,527.56 L127.98,541.40 Z" fill="#0b0b8c"/>
<path d="M132.25,541.40 L132.25,513.72 L136.52,513.72 L136.52,541.40 Z" fill="#0b0b8c"/>
<path d="M145.07,541.40 L145.07,486.04 L149.34,486.04 L149.34,541.40 Z" fill="#0b0b8c"/>
<path d="M157.88,541.40 L157.88,534.48 L162.16,534.48 L162.16,527.56 L166.43,527.56 L166.43,541.40 Z" fill="#0b0b8c"/>
<path d="M174.97,541.40 L174.97,499.88 L179.24,499.88 L179.24,527.56 L183.52,527.56 L183.52,527.56 L187.79,527.56 L187.79,513.72 L192.06,513.72 L192.06,541.40 Z" fill="#0b0b8c"/>
<path d="M204.88,541.40 L204.88,527.56 L209.15,527.56 L209.15,527.56 L213.42,527.56 L213.42,513.72 L217.69,513.72 L217.69,541.40 Z" fill="#0b0b8c"/>
<path d="M221.96,541.40 L221.96,486.04 L226.24,486.04 L226.24,527.56 L230.51,527.56 L230.51,513.72 L234.78,513.72 L234.78,513.72 L239.05,513.72 L239.05,513.72 L243.32,513.72 L243.32,513.72 L247.60,513.72 L247.60,541.40 Z" fill="#0b0b8c"/>
<path d="M251.87,541.40 L251.87,527.56 L256.14,527.56 L256.14,541.40 Z" fill="#0b0b8c"/>
<path d="M260.41,541.40 L260.41,527.56 L264.68,527.56 L264.68,513.72 L268.96,513.72 L268.96,513.72 L273.23,513.72 L273.23,527.56 L277.50,527.56 L277.50,541.40 Z" fill="#0b0b8c"/>
<path d="M281.77,541.40 L281.77,486.04 L286.04,486.04 L286.04,541.40 Z" fill="#0b0b8c"/>
<path d="M294.59,541.40 L294.59,499.88 L298.86,499.88 L298.86,472.20 L303.13,472.20 L303.13,527.56 L307.40,527.56 L307.40,541.40 Z" fill="#0b0b8c"/>
<path d="M311.68,541.40 L311.68,513.72 L315.95,513.72 L315.95,541.40 Z" fill="#0b0b8c"/>
<path d="M324.49,541.40 L324.49,527.56 L328.76,527.56 L328.76,513.72 L333.04,513.72 L333.04,513.72 L337.31,513.72 L337.31,527.56 L341.58,527.56 L341.58,513.72 L345.85,513.72 L345.85,541.40 Z" fill="#0b0b8c"/>
<path d="M354.40,541.40 L354.40,527.56 L358.67,527.56 L358.67,513.72 L362.94,513.72 L362.94,541.40 Z" fill="#0b0b8c"/>
<path d="M367.21,541.40 L367.21,513.72 L371.48,513.72 L371.48,492.96 L375.76,492.96 L375.76,541.40 Z" fill="#0b0b8c"/>
<path d="M388.57,541.40 L388.57,513.72 L392.84,513.72 L392.84,527.56 L397.12,527.56 L397.12,513.72 L401.39,513.72 L401.39,513.72 L405.66,513.72 L405.66,513.72 L409.93,513.72 L409.93,541.40 Z" fill="#0b0b8c"/>
<path d="M414.20,541.40 L414.20,527.56 L418.48,527.56 L418.48,527.56 L422.75,527.56 L422.75,541.40 Z" fill="#0b0b8c"/>
<path d="M427.02,541.40 L427.02,527.56 L431.29,527.56 L431.29,492.96 L435.56,492.96 L435.56,541.40 Z" fill="#0b0b8c"/>
<path d="M444.11,541.40 L444.11,527.56 L448.38,527.56 L448.38,486.04 L452.65,486.04 L452.65,541.40 Z" fill="#0b0b8c"/>
<path d="M456.92,541.40 L456.92,527.56 L461.20,527.56 L461.20,486.04 L465.47,486.04 L465.47,513.72 L469.74,513.72 L469.74,513.72 L474.01,513.72 L474.01,527.56 L478.28,527.56 L478.28,541.40 Z" fill="#0b0b8c"/>
<path d="M491.10,541.40 L491.10,527.56 L495.37,527.56 L495.37,541.40 Z" fill="#0b0b8c"/>
<path d="M499.64,541.40 L499.64,527.56 L503.92,527.56 L503.92,541.40 Z" fill="#0b0b8c"/>
<path d="M508.19,541.40 L508.19,513.72 L512.46,513.72 L512.46,541.40 Z" fill="#0b0b8c"/>
<path d="M521.00,541.40 L521.00,527.56 L525.28,527.56 L525.28,520.64 L529.55,520.64 L529.55,527.56 L533.82,527.56 L533.82,527.56 L538.09,527.56 L538.09,541.40 Z" fill="#0b0b8c"/>
<path d="M546.64,541.40 L546.64,513.72 L550.91,513.72 L550.91,527.56 L555.18,527.56 L555.18,486.04 L559.45,486.04 L559.45,527.56 L563.72,527.56 L563.72,541.40 Z" fill="#0b0b8c"/>
<path d="M568.00,541.40 L568.00,527.56 L572.27,527.56 L572.27,541.40 Z" fill="#0b0b8c"/>
<path d="M576.54,541.40 L576.54,513.72 L580.81,513.72 L580.81,541.40 Z" fill="#0b0b8c"/>
<path d="M585.08,541.40 L585.08,492.96 L589.36,492.96 L589.36,527.56 L593.63,527.56 L593.63,527.56 L597.90,527.56 L597.90,513.72 L602.17,513.72 L602.17,541.40 Z" fill="#0b0b8c"/>
<path d="M610.72,541.40 L610.72,527.56 L614.99,527.56 L614.99,513.72 L619.26,513.72 L619.26,527.56 L623.53,527.56 L623.53,527.56 L627.80,527.56 L627.80,499.88 L632.08,499.88 L632.08,513.72 L636.35,513.72 L636.35,541.40 Z" fill="#0b0b8c"/>
<path d="M644.89,541.40 L644.89,499.88 L649.16,499.88 L649.16,541.40 Z" fill="#0b0b8c"/>
<path d="M653.44,541.40 L653.44,527.56 L657.71,527.56 L657.71,527.56 L661.98,527.56 L661.98,541.40 Z" fill="#0b0b8c"/>
<path d="M679.07,541.40 L679.07,527.56 L683.34,527.56 L683.34,527.56 L687.61,527.56 L687.61,527.56 L691.88,527.56 L691.88,513.72 L696.16,513.72 L696.16,513.72 L700.43,513.72 L700.43,527.56 L704.70,527.56 L704.70,499.88 L708.97,499.88 L708.97,527.56 L713.24,527.56 L713.24,527.56 L717.52,527.56 L717.52,541.40 Z" fill="#0b0b8c"/>
<path d="M721.79,541.40 L721.79,499.88 L726.06,499.88 L726.06,513.72 L730.33,513.72 L730.33,527.56 L734.60,527.56 L734.60,527.56 L738.88,527.56 L738.88,534.48 L743.15,534.48 L743.15,541.40 Z" fill="#0b0b8c"/>
<path d="M747.42,541.40 L747.42,527.56 L751.69,527.56 L751.69,499.88 L755.96,499.88 L755.96,541.40 Z" fill="#0b0b8c"/>
<path d="M760.24,541.40 L760.24,527.56 L764.51,527.56 L764.51,541.40 Z" fill="#0b0b8c"/>
<path d="M768.78,541.40 L768.78,527.56 L773.05,527.56 L773.05,541.40 Z" fill="#0b0b8c"/>
<path d="M777.32,541.40 L777.32,527.56 L781.60,527.56 L781.60,527.56 L785.87,527.56 L785.87,541.40 Z" fill="#0b0b8c"/>
<path d="M790.14,541.40 L790.14,527.56 L794.41,527.56 L794.41,513.72 L798.68,513.72 L798.68,541.40 Z" fill="#0b0b8c"/>
<path d="M802.96,541.40 L802.96,513.72 L807.23,513.72 L807.23,499.88 L811.50,499.88 L811.50,541.40 Z" fill="#0b0b8c"/>
<path d="M815.77,541.40 L815.77,527.56 L820.04,527.56 L820.04,513.72 L824.32,513.72 L824.32,499.88 L828.59,499.88 L828.59,513.72 L832.86,513.72 L832.86,541.40 Z" fill="#0b0b8c"/>
<path d="M837.13,541.40 L837.13,520.64 L841.40,520.64 L841.40,513.72 L845.68,513.72 L845.68,541.40 Z" fill="#0b0b8c"/>
<path d="M849.95,541.40 L849.95,527.56 L854.22,527.56 L854.22,527.56 L858.49,527.56 L858.49,541.40 Z" fill="#0b0b8c"/>
<path d="M862.76,541.40 L862.76,527.56 L867.04,527.56 L867.04,527.56 L871.31,527.56 L871.31,513.72 L875.58,513.72 L875.58,541.40 Z" fill="#0b0b8c"/>
<path d="M879.85,541.40 L879.85,527.56 L884.12,527.56 L884.12,520.64 L888.40,520.64 L888.40,513.72 L892.67,513.72 L892.67,541.40 Z" fill="#0b0b8c"/>
<path d="M901.21,541.40 L901.21,499.88 L905.48,499.88 L905.48,541.40 Z" fill="#0b0b8c"/>
<path d="M914.03,541.40 L914.03,527.56 L918.30,527.56 L918.30,513.72 L922.57,513.72 L922.57,527.56 L926.84,527.56 L926.84,527.56 L931.12,527.56 L931.12,486.04 L935.39,486.04 L935.39,541.40 Z" fill="#0b0b8c"/>
<path d="M939.66,541.40 L939.66,513.72 L943.93,513.72 L943.93,541.40 Z" fill="#0b0b8c"/>
<path d="M948.20,541.40 L948.20,527.56 L952.48,527.56 L952.48,527.56 L956.75,527.56 L956.75,527.56 L961.02,527.56 L961.02,513.72 L965.29,513.72 L965.29,541.40 Z" fill="#0b0b8c"/>
<rect x="192.36" y="493.46" width="3.67" height="47.94" fill="#0b0b8c" stroke="#111" stroke-width="1"/>
<rect x="478.58" y="445.02" width="3.67" height="96.38" fill="#c83214" stroke="#111" stroke-width="1"/>
<rect x="538.39" y="486.54" width="3.67" height="54.86" fill="#c83214" stroke="#111" stroke-width="1"/>
<rect x="662.28" y="486.54" width="3.67" height="54.86" fill="#c83214" stroke="#111" stroke-width="1"/>
<rect x="743.45" y="486.54" width="3.67" height="54.86" fill="#c83214" stroke="#111" stroke-width="1"/>
<rect x="811.80" y="472.70" width="3.67" height="68.70" fill="#c83214" stroke="#111" stroke-width="1"/>
<rect x="910.06" y="486.54" width="3.67" height="54.86" fill="#c83214" stroke="#111" stroke-width="1"/>
<path d="M113.6,541.4 L113.6,403.8 L972.9,403.8 L972.9,541.4" fill="none" stroke="#5a5a5a" stroke-width="1.3"/>
<line x1="113.0" y1="541.4" x2="973.5" y2="541.4" stroke="#333" stroke-width="1.6"/>
<text transform="translate(111.23,555.80) scale(0.9634,1)" font-size="15.2" fill="#000" stroke="#000" stroke-width="0.35">0</text>
<text transform="translate(152.75,555.80) scale(0.7984,1)" font-size="15.2" fill="#000" stroke="#000" stroke-width="0.35">10</text>
<text transform="translate(194.15,555.80) scale(0.9711,1)" font-size="15.2" fill="#000" stroke="#000" stroke-width="0.35">20</text>
<text transform="translate(237.05,555.80) scale(0.9597,1)" font-size="15.2" fill="#000" stroke="#000" stroke-width="0.35">30</text>
<text transform="translate(280.00,555.80) scale(0.9459,1)" font-size="15.2" fill="#000" stroke="#000" stroke-width="0.35">40</text>
<text transform="translate(322.46,555.80) scale(0.9615,1)" font-size="15.2" fill="#000" stroke="#000" stroke-width="0.35">50</text>
<text transform="translate(365.02,555.80) scale(0.9716,1)" font-size="15.2" fill="#000" stroke="#000" stroke-width="0.35">60</text>
<text transform="translate(407.73,555.80) scale(0.9721,1)" font-size="15.2" fill="#000" stroke="#000" stroke-width="0.35">70</text>
<text transform="translate(450.57,555.80) scale(0.9647,1)" font-size="15.2" fill="#000" stroke="#000" stroke-width="0.35">80</text>
<text transform="translate(493.24,555.80) scale(0.9679,1)" font-size="15.2" fill="#000" stroke="#000" stroke-width="0.35">90</text>
<text transform="translate(533.11,555.80) scale(0.8556,1)" font-size="15.2" fill="#000" stroke="#000" stroke-width="0.35">100</text>
<text transform="translate(576.98,555.80) scale(0.7667,1)" font-size="15.2" fill="#000" stroke="#000" stroke-width="0.35">110</text>
<text transform="translate(618.55,555.80) scale(0.8556,1)" font-size="15.2" fill="#000" stroke="#000" stroke-width="0.35">120</text>
<text transform="translate(661.27,555.80) scale(0.8556,1)" font-size="15.2" fill="#000" stroke="#000" stroke-width="0.35">130</text>
<text transform="translate(703.99,555.80) scale(0.8556,1)" font-size="15.2" fill="#000" stroke="#000" stroke-width="0.35">140</text>
<text transform="translate(746.71,555.80) scale(0.8556,1)" font-size="15.2" fill="#000" stroke="#000" stroke-width="0.35">150</text>
<text transform="translate(789.43,555.80) scale(0.8556,1)" font-size="15.2" fill="#000" stroke="#000" stroke-width="0.35">160</text>
<text transform="translate(832.15,555.80) scale(0.8556,1)" font-size="15.2" fill="#000" stroke="#000" stroke-width="0.35">170</text>
<text transform="translate(874.87,555.80) scale(0.8556,1)" font-size="15.2" fill="#000" stroke="#000" stroke-width="0.35">180</text>
<text transform="translate(917.59,555.80) scale(0.8556,1)" font-size="15.2" fill="#000" stroke="#000" stroke-width="0.35">190</text>
<text transform="translate(959.06,555.80) scale(0.9666,1)" font-size="15.2" fill="#000" stroke="#000" stroke-width="0.35">200</text>
<text transform="translate(96.43,547.50) scale(0.9634,1)" font-size="15.2" fill="#000" stroke="#000" stroke-width="0.35">0</text>
<text transform="translate(96.21,513.23) scale(0.9713,1)" font-size="15.2" fill="#000" stroke="#000" stroke-width="0.35">5</text>
<text transform="translate(94.28,478.95) scale(0.7984,1)" font-size="15.2" fill="#000" stroke="#000" stroke-width="0.35">10</text>
<text transform="translate(94.27,444.68) scale(0.8007,1)" font-size="15.2" fill="#000" stroke="#000" stroke-width="0.35">15</text>
<text transform="translate(92.26,410.40) scale(0.9711,1)" font-size="15.2" fill="#000" stroke="#000" stroke-width="0.35">20</text>
<text transform="translate(512.1,574.8)" font-size="18.5" fill="#000" stroke="#000" stroke-width="0.35" textLength="95" lengthAdjust="spacingAndGlyphs"><tspan font-style="italic">x</tspan> (Daltons)</text>
<g transform="translate(84.4,546.8) rotate(-90)" stroke="#000" stroke-width="0.35"><text x="0" y="0" font-size="18.5" fill="#000" textLength="69.6" lengthAdjust="spacingAndGlyphs"><tspan font-style="italic">conv</tspan>(<tspan font-style="italic">S</tspan>,<tspan font-style="italic">x</tspan>)</text><text x="78.8" y="0" font-size="18.5" fill="#000" textLength="67.7" lengthAdjust="spacingAndGlyphs">(counts)</text></g>
<text transform="translate(464.96,439.90) scale(0.9562,1)" font-size="23.5" fill="#e0441c">A</text>
<text transform="translate(480.04,433.00) scale(1.0007,1)" font-size="15.5" fill="#e0441c">+14</text>
<text transform="translate(533.50,475.40) scale(0.9310,1)" font-size="23.5" fill="#d443f4">V</text>
<text transform="translate(656.71,475.60) scale(1.0310,1)" font-size="23.5" fill="#a4c81c">K</text>
<text transform="translate(738.27,475.60) scale(1.0534,1)" font-size="23.5" fill="#2424e8">F</text>
<text transform="translate(806.29,463.60) scale(0.9903,1)" font-size="23.5" fill="#55e8f4">Y</text>
<text transform="translate(901.20,475.60) scale(0.9638,1)" font-size="23.5" fill="#e08420">W</text>
<rect x="267.05" y="667.2" width="2.1" height="47.6" fill="#a6f486"/>
<rect x="293.75" y="667.2" width="3.5" height="47.6" fill="#1010f8"/>
<rect x="325.15" y="667.2" width="2.1" height="47.6" fill="#f0a088"/>
<rect x="401.45" y="667.2" width="2.1" height="47.6" fill="#a6f486"/>
<rect x="403.95" y="667.2" width="3.5" height="47.6" fill="#1010f8"/>
<rect x="427.95" y="667.2" width="2.1" height="47.6" fill="#f0a088"/>
<rect x="504.55" y="667.2" width="2.1" height="47.6" fill="#a6f486"/>
<rect x="527.15" y="667.2" width="3.5" height="47.6" fill="#1010f8"/>
<rect x="538.15" y="667.2" width="2.1" height="47.6" fill="#f0a088"/>
<rect x="602.70" y="667.2" width="2.0" height="47.6" fill="#1010f8"/>
<rect x="613.55" y="667.2" width="2.1" height="47.6" fill="#a6f486"/>
<rect x="661.75" y="667.2" width="2.1" height="47.6" fill="#f0a088"/>
<rect x="679.10" y="667.2" width="2.0" height="47.6" fill="#1010f8"/>
<rect x="689.35" y="667.2" width="2.1" height="47.6" fill="#a6f486"/>
<rect x="736.00" y="667.2" width="2.0" height="47.6" fill="#b2b23a"/>
<path d="M192.7,667.2 L192.7,714.8 L813.7,714.8 L813.7,667.2" fill="none" stroke="#000" stroke-width="2.4"/>
<line x1="200.60" y1="673.70" x2="287.60" y2="673.70" stroke="#7a7a7a" stroke-width="1.8"/><path d="M194.20,673.70 L201.60,669.80 L200.60,673.70 L201.60,677.60 Z" fill="#7a7a7a"/><path d="M294.00,673.70 L286.60,677.60 L287.60,673.70 L286.60,669.80 Z" fill="#7a7a7a"/>
<line x1="307.20" y1="673.70" x2="394.00" y2="673.70" stroke="#000" stroke-width="2.9"/><path d="M296.90,673.70 L310.40,666.70 L307.20,673.70 L310.40,680.70 Z" fill="#000"/><path d="M404.30,673.70 L390.80,680.70 L394.00,673.70 L390.80,666.70 Z" fill="#000"/>
<line x1="417.40" y1="673.70" x2="517.20" y2="673.70" stroke="#000" stroke-width="2.9"/><path d="M407.10,673.70 L420.60,666.70 L417.40,673.70 L420.60,680.70 Z" fill="#000"/><path d="M527.50,673.70 L514.00,680.70 L517.20,673.70 L514.00,666.70 Z" fill="#000"/>
<line x1="536.80" y1="673.70" x2="595.80" y2="673.70" stroke="#7a7a7a" stroke-width="1.8"/><path d="M530.40,673.70 L537.80,669.80 L536.80,673.70 L537.80,677.60 Z" fill="#7a7a7a"/><path d="M602.20,673.70 L594.80,677.60 L595.80,673.70 L594.80,669.80 Z" fill="#7a7a7a"/>
<line x1="611.60" y1="673.70" x2="672.20" y2="673.70" stroke="#7a7a7a" stroke-width="1.8"/><path d="M605.20,673.70 L612.60,669.80 L611.60,673.70 L612.60,677.60 Z" fill="#7a7a7a"/><path d="M678.60,673.70 L671.20,677.60 L672.20,673.70 L671.20,669.80 Z" fill="#7a7a7a"/>
<line x1="688.00" y1="673.70" x2="805.80" y2="673.70" stroke="#7a7a7a" stroke-width="1.8"/><path d="M681.60,673.70 L689.00,669.80 L688.00,673.70 L689.00,677.60 Z" fill="#7a7a7a"/><path d="M812.20,673.70 L804.80,677.60 L805.80,673.70 L804.80,669.80 Z" fill="#7a7a7a"/>
<rect x="267.05" y="771.1" width="2.1" height="47.6" fill="#a6f486"/>
<rect x="293.55" y="771.1" width="2.1" height="47.6" fill="#8282fe"/>
<rect x="324.50" y="771.1" width="2.0" height="47.6" fill="#d04020"/>
<rect x="400.55" y="771.1" width="2.1" height="47.6" fill="#a6f486"/>
<rect x="403.75" y="771.1" width="2.1" height="47.6" fill="#8282fe"/>
<rect x="427.25" y="771.1" width="3.5" height="47.6" fill="#d83a10"/>
<rect x="504.55" y="771.1" width="2.1" height="47.6" fill="#a6f486"/>
<rect x="527.15" y="771.1" width="2.1" height="47.6" fill="#8282fe"/>
<rect x="536.45" y="771.1" width="3.5" height="47.6" fill="#d83a10"/>
<rect x="602.95" y="771.1" width="2.1" height="47.6" fill="#8282fe"/>
<rect x="613.55" y="771.1" width="2.1" height="47.6" fill="#a6f486"/>
<rect x="660.45" y="771.1" width="3.5" height="47.6" fill="#d83a10"/>
<rect x="677.75" y="771.1" width="2.1" height="47.6" fill="#8282fe"/>
<rect x="688.35" y="771.1" width="2.1" height="47.6" fill="#a6f486"/>
<rect x="736.00" y="771.1" width="2.0" height="47.6" fill="#d04020"/>
<path d="M192.7,771.1 L192.7,818.7 L813.7,818.7 L813.7,771.1" fill="none" stroke="#000" stroke-width="2.4"/>
<line x1="200.60" y1="776.90" x2="317.60" y2="776.90" stroke="#7a7a7a" stroke-width="1.8"/><path d="M194.20,776.90 L201.60,773.00 L200.60,776.90 L201.60,780.80 Z" fill="#7a7a7a"/><path d="M324.00,776.90 L316.60,780.80 L317.60,776.90 L316.60,773.00 Z" fill="#7a7a7a"/>
<line x1="333.40" y1="776.90" x2="421.10" y2="776.90" stroke="#7a7a7a" stroke-width="1.8"/><path d="M327.00,776.90 L334.40,773.00 L333.40,776.90 L334.40,780.80 Z" fill="#7a7a7a"/><path d="M427.50,776.90 L420.10,780.80 L421.10,776.90 L420.10,773.00 Z" fill="#7a7a7a"/>
<line x1="440.70" y1="776.90" x2="526.50" y2="776.90" stroke="#000" stroke-width="2.9"/><path d="M430.40,776.90 L443.90,769.90 L440.70,776.90 L443.90,783.90 Z" fill="#000"/><path d="M536.80,776.90 L523.30,783.90 L526.50,776.90 L523.30,769.90 Z" fill="#000"/>
<line x1="549.90" y1="776.90" x2="650.50" y2="776.90" stroke="#000" stroke-width="2.9"/><path d="M539.60,776.90 L553.10,769.90 L549.90,776.90 L553.10,783.90 Z" fill="#000"/><path d="M660.80,776.90 L647.30,783.90 L650.50,776.90 L647.30,769.90 Z" fill="#000"/>
<line x1="670.10" y1="776.90" x2="729.10" y2="776.90" stroke="#7a7a7a" stroke-width="1.8"/><path d="M663.70,776.90 L671.10,773.00 L670.10,776.90 L671.10,780.80 Z" fill="#7a7a7a"/><path d="M735.50,776.90 L728.10,780.80 L729.10,776.90 L728.10,773.00 Z" fill="#7a7a7a"/>
<line x1="744.90" y1="776.90" x2="805.80" y2="776.90" stroke="#7a7a7a" stroke-width="1.8"/><path d="M738.50,776.90 L745.90,773.00 L744.90,776.90 L745.90,780.80 Z" fill="#7a7a7a"/><path d="M812.20,776.90 L804.80,780.80 L805.80,776.90 L804.80,773.00 Z" fill="#7a7a7a"/>
<rect x="267.10" y="873.7" width="2.0" height="47.8" fill="#6cf012"/>
<rect x="293.55" y="873.7" width="2.1" height="47.8" fill="#8282fe"/>
<rect x="324.45" y="873.7" width="2.1" height="47.8" fill="#f0a088"/>
<rect x="400.90" y="873.7" width="2.0" height="47.8" fill="#6cf012"/>
<rect x="403.75" y="873.7" width="2.1" height="47.8" fill="#8282fe"/>
<rect x="427.95" y="873.7" width="2.1" height="47.8" fill="#f0a088"/>
<rect x="502.75" y="873.7" width="3.5" height="47.8" fill="#6cf012"/>
<rect x="527.15" y="873.7" width="2.1" height="47.8" fill="#8282fe"/>
<rect x="537.15" y="873.7" width="2.1" height="47.8" fill="#f0a088"/>
<rect x="602.95" y="873.7" width="2.1" height="47.8" fill="#8282fe"/>
<rect x="612.85" y="873.7" width="3.5" height="47.8" fill="#6cf012"/>
<rect x="661.15" y="873.7" width="2.1" height="47.8" fill="#f0a088"/>
<rect x="677.75" y="873.7" width="2.1" height="47.8" fill="#8282fe"/>
<rect x="688.35" y="873.7" width="2.1" height="47.8" fill="#a6f486"/>
<rect x="735.85" y="873.7" width="3.5" height="47.8" fill="#6cf012"/>
<path d="M192.7,873.7 L192.7,921.5 L813.7,921.5 L813.7,873.7" fill="none" stroke="#000" stroke-width="2.4"/>
<line x1="200.60" y1="880.10" x2="260.20" y2="880.10" stroke="#7a7a7a" stroke-width="1.8"/><path d="M194.20,880.10 L201.60,876.20 L200.60,880.10 L201.60,884.00 Z" fill="#7a7a7a"/><path d="M266.60,880.10 L259.20,884.00 L260.20,880.10 L259.20,876.20 Z" fill="#7a7a7a"/>
<line x1="276.00" y1="880.10" x2="394.00" y2="880.10" stroke="#7a7a7a" stroke-width="1.8"/><path d="M269.60,880.10 L277.00,876.20 L276.00,880.10 L277.00,884.00 Z" fill="#7a7a7a"/><path d="M400.40,880.10 L393.00,884.00 L394.00,880.10 L393.00,876.20 Z" fill="#7a7a7a"/>
<line x1="409.80" y1="880.10" x2="496.60" y2="880.10" stroke="#7a7a7a" stroke-width="1.8"/><path d="M403.40,880.10 L410.80,876.20 L409.80,880.10 L410.80,884.00 Z" fill="#7a7a7a"/><path d="M503.00,880.10 L495.60,884.00 L496.60,880.10 L495.60,876.20 Z" fill="#7a7a7a"/>
<line x1="516.20" y1="880.10" x2="602.90" y2="880.10" stroke="#000" stroke-width="2.9"/><path d="M505.90,880.10 L519.40,873.10 L516.20,880.10 L519.40,887.10 Z" fill="#000"/><path d="M613.20,880.10 L599.70,887.10 L602.90,880.10 L599.70,873.10 Z" fill="#000"/>
<line x1="626.30" y1="880.10" x2="725.90" y2="880.10" stroke="#000" stroke-width="2.9"/><path d="M616.00,880.10 L629.50,873.10 L626.30,880.10 L629.50,887.10 Z" fill="#000"/><path d="M736.20,880.10 L722.70,887.10 L725.90,880.10 L722.70,873.10 Z" fill="#000"/>
<line x1="745.50" y1="880.10" x2="805.80" y2="880.10" stroke="#7a7a7a" stroke-width="1.8"/><path d="M739.10,880.10 L746.50,876.20 L745.50,880.10 L746.50,884.00 Z" fill="#7a7a7a"/><path d="M812.20,880.10 L804.80,884.00 L805.80,880.10 L804.80,876.20 Z" fill="#7a7a7a"/>
<text transform="translate(218.64,663.90) scale(1.0803,1)" font-size="27.5" fill="#7a7a7a">A</text>
<text transform="translate(238.41,655.60) scale(0.9628,1)" font-size="19" fill="#7a7a7a">+14</text>
<text transform="translate(339.05,663.90) scale(1.1892,1)" font-size="27.2" font-weight="bold" fill="#000">Y</text>
<text transform="translate(450.77,663.90) scale(1.2959,1)" font-size="27.2" font-weight="bold" fill="#000">W</text>
<text transform="translate(555.87,664.00) scale(1.0775,1)" font-size="27.5" fill="#7a7a7a">K</text>
<text transform="translate(633.58,664.00) scale(0.9723,1)" font-size="27.5" fill="#7a7a7a">V</text>
<text transform="translate(739.62,664.00) scale(0.8779,1)" font-size="27.5" fill="#7a7a7a">F</text>
<text transform="translate(251.57,768.00) scale(0.9002,1)" font-size="27.5" fill="#7a7a7a">F</text>
<text transform="translate(352.55,768.00) scale(1.0036,1)" font-size="27.5" fill="#7a7a7a">A</text>
<text transform="translate(371.33,759.60) scale(0.9367,1)" font-size="19" fill="#7a7a7a">+14</text>
<text transform="translate(472.43,768.00) scale(1.2182,1)" font-size="27.2" font-weight="bold" fill="#000">Y</text>
<text transform="translate(582.96,768.00) scale(1.3310,1)" font-size="27.2" font-weight="bold" fill="#000">W</text>
<text transform="translate(689.76,768.00) scale(1.0838,1)" font-size="27.5" fill="#7a7a7a">K</text>
<text transform="translate(766.78,768.00) scale(0.9668,1)" font-size="27.5" fill="#7a7a7a">V</text>
<text transform="translate(220.88,870.50) scale(0.9834,1)" font-size="27.5" fill="#7a7a7a">V</text>
<text transform="translate(327.62,870.50) scale(0.8779,1)" font-size="27.5" fill="#7a7a7a">F</text>
<text transform="translate(427.64,870.60) scale(1.0913,1)" font-size="27.5" fill="#7a7a7a">A</text>
<text transform="translate(447.83,861.80) scale(0.9335,1)" font-size="19" fill="#7a7a7a">+14</text>
<text transform="translate(549.58,870.50) scale(1.1137,1)" font-size="27.2" font-weight="bold" fill="#000">Y</text>
<text transform="translate(659.17,870.50) scale(1.2998,1)" font-size="27.2" font-weight="bold" fill="#000">W</text>
<text transform="translate(766.01,870.50) scale(1.0141,1)" font-size="27.5" fill="#7a7a7a">K</text>
<text transform="translate(383.69,737.70) scale(1.0785,1)" font-size="26.5" font-weight="bold" fill="#000">F</text>
<text transform="translate(480.39,840.00) scale(1.1567,1)" font-size="26.2" font-weight="bold" fill="#000">V</text>
<text transform="translate(218.64,991.70) scale(1.0968,1)" font-size="27.5" fill="#000">A</text>
<text transform="translate(239.02,983.60) scale(0.9432,1)" font-size="19" fill="#000">+14</text>
<text transform="translate(339.86,991.70) scale(1.0564,1)" font-size="27.5" fill="#000">Y</text>
<text transform="translate(452.16,991.70) scale(1.1732,1)" font-size="27.5" fill="#000">W</text>
<text transform="translate(555.94,991.50) scale(1.0458,1)" font-size="27.5" fill="#000">K</text>
<text transform="translate(634.19,991.50) scale(0.9392,1)" font-size="27.5" fill="#000">V</text>
<text transform="translate(740.55,991.50) scale(0.8184,1)" font-size="27.5" fill="#000">F</text>
<line x1="307.36" y1="690.51" x2="421.34" y2="764.79" stroke="#000" stroke-width="2.8"/><path d="M298.90,685.00 L313.70,686.65 L307.36,690.51 L306.39,697.87 Z" fill="#000"/><path d="M429.80,770.30 L415.00,768.65 L421.34,764.79 L422.31,757.43 Z" fill="#000"/>
<line x1="437.38" y1="793.83" x2="496.42" y2="866.37" stroke="#000" stroke-width="2.8"/><path d="M431.00,786.00 L444.59,792.08 L437.38,793.83 L434.20,800.54 Z" fill="#000"/><path d="M502.80,874.20 L489.21,868.12 L496.42,866.37 L499.60,859.66 Z" fill="#000"/>
<line x1="295.5" y1="994.3" x2="295.5" y2="1041.6" stroke="#000" stroke-width="2"/>
<line x1="405.1" y1="994.3" x2="405.1" y2="1041.6" stroke="#000" stroke-width="2"/>
<line x1="528.9" y1="994.3" x2="528.9" y2="1041.6" stroke="#000" stroke-width="2"/>
<line x1="603.7" y1="994.3" x2="603.7" y2="1041.6" stroke="#000" stroke-width="2"/>
<line x1="680.1" y1="994.3" x2="680.1" y2="1041.6" stroke="#000" stroke-width="2"/>
<path d="M192.4,994.3 L192.4,1041.6 L813.8,1041.6 L813.8,994.3" fill="none" stroke="#000" stroke-width="2.2"/>
<line x1="199.50" y1="1001.30" x2="288.40" y2="1001.30" stroke="#000" stroke-width="1.9" stroke-dasharray="0.01,4.2" stroke-linecap="round"/><path d="M193.70,1001.30 L201.50,997.00 L199.50,1001.30 L201.50,1005.60 Z" fill="#000"/><path d="M294.20,1001.30 L286.40,1005.60 L288.40,1001.30 L286.40,997.00 Z" fill="#000"/>
<line x1="302.60" y1="1001.30" x2="398.00" y2="1001.30" stroke="#000" stroke-width="1.9"/><path d="M296.80,1001.30 L304.60,997.00 L302.60,1001.30 L304.60,1005.60 Z" fill="#000"/><path d="M403.80,1001.30 L396.00,1005.60 L398.00,1001.30 L396.00,997.00 Z" fill="#000"/>
<line x1="412.20" y1="1001.30" x2="521.80" y2="1001.30" stroke="#000" stroke-width="1.9"/><path d="M406.40,1001.30 L414.20,997.00 L412.20,1001.30 L414.20,1005.60 Z" fill="#000"/><path d="M527.60,1001.30 L519.80,1005.60 L521.80,1001.30 L519.80,997.00 Z" fill="#000"/>
<line x1="536.00" y1="1001.30" x2="596.60" y2="1001.30" stroke="#000" stroke-width="1.9" stroke-dasharray="0.01,4.2" stroke-linecap="round"/><path d="M530.20,1001.30 L538.00,997.00 L536.00,1001.30 L538.00,1005.60 Z" fill="#000"/><path d="M602.40,1001.30 L594.60,1005.60 L596.60,1001.30 L594.60,997.00 Z" fill="#000"/>
<line x1="610.80" y1="1001.30" x2="673.00" y2="1001.30" stroke="#000" stroke-width="1.9"/><path d="M605.00,1001.30 L612.80,997.00 L610.80,1001.30 L612.80,1005.60 Z" fill="#000"/><path d="M678.80,1001.30 L671.00,1005.60 L673.00,1001.30 L671.00,997.00 Z" fill="#000"/>
<line x1="687.20" y1="1001.30" x2="806.70" y2="1001.30" stroke="#000" stroke-width="1.9"/><path d="M681.40,1001.30 L689.20,997.00 L687.20,1001.30 L689.20,1005.60 Z" fill="#000"/><path d="M812.50,1001.30 L804.70,1005.60 L806.70,1001.30 L804.70,997.00 Z" fill="#000"/>
</svg>
</body></html>
